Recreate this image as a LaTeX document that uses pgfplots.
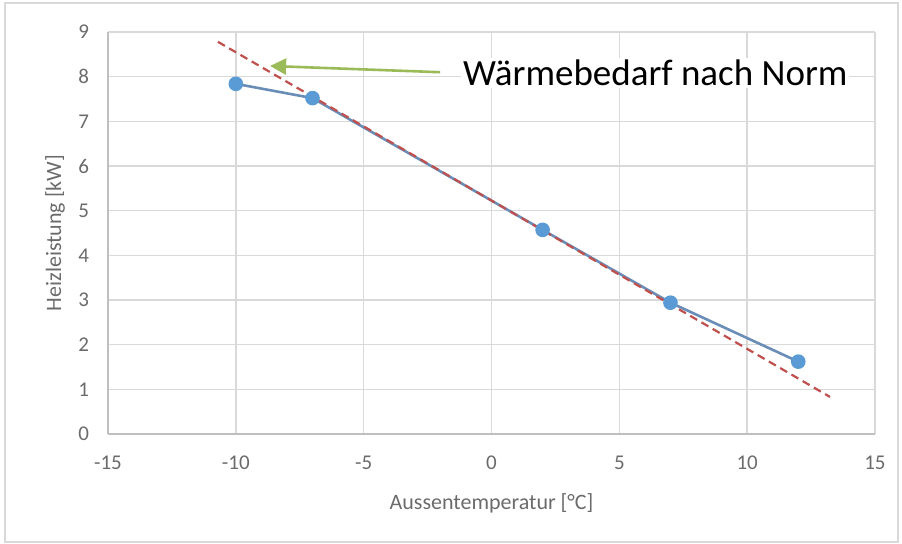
\documentclass[border=0pt]{standalone}
\usepackage{fontspec}
\setmainfont{Carlito}
\usepackage{pgfplots}
\pgfplotsset{compat=1.18}
\usetikzlibrary{arrows.meta}

\definecolor{gridgray}{HTML}{D9D9D9}
\definecolor{axgray}{HTML}{BFBFBF}
\definecolor{txtgray}{HTML}{6B6B6B}
\definecolor{ptblue}{HTML}{5B9BD5}
\definecolor{lnblue}{HTML}{6A8DB8}
\definecolor{normred}{HTML}{C0504D}
\definecolor{arrgreen}{HTML}{9BBB59}

\begin{document}
\begin{tikzpicture}
% chart area, 1px = 0.5pt
\path[use as bounding box] (0,0) rectangle (451pt,271.5pt);
\draw[gridgray, line width=0.8pt] (2.5pt,0.5pt) rectangle (449pt,270pt);

\begin{axis}[
    at={(54pt,54.5pt)}, anchor=south west,
    scale only axis,
    width=383.5pt, height=201pt,
    xmin=-15, xmax=15, ymin=0, ymax=9,
    xtick={-15,-10,...,15}, ytick={0,1,...,9},
    grid=major,
    major grid style={gridgray, line width=0.8pt},
    axis line style={axgray, line width=0.8pt},
    axis x line*=bottom, axis y line*=left,
    separate axis lines,
    tick style={draw=none},
    /pgf/number format/assume math mode=true,
    ticklabel style={font=\fontsize{10.5}{12}\selectfont, text=txtgray},
    xticklabel shift=7.5pt,
    yticklabel shift=6pt,
    xlabel={Aussentemperatur [°C]},
    ylabel={Heizleistung [kW]},
    label style={font=\fontsize{11}{13}\selectfont, text=txtgray},
    xlabel style={at={(axis description cs:0.5,-0.172)}, anchor=center},
    ylabel style={at={(axis description cs:-0.069,0.5)}, anchor=center},
    clip=false,
]
\addplot[lnblue, line width=1.3pt,
    mark=*, mark size=3pt, mark options={fill=ptblue, draw=ptblue}]
coordinates {(-10,7.84) (-7,7.52) (2,4.57) (7,2.94) (12,1.62)};

\addplot[normred, line width=1.1pt, dash pattern=on 4pt off 2.5pt]
coordinates {(-10.7,8.78) (13.24,0.83)};

\draw[arrgreen, line width=1.3pt, -{Triangle[length=8pt,width=8pt]}]
    (axis cs:-2.01,8.10) -- (axis cs:-8.66,8.24);

\node[anchor=west, fill=white, inner sep=1pt, font=\fontsize{18.5}{22}\selectfont]
    at (axis cs:-1.2,8.08) {Wärmebedarf nach Norm};
\end{axis}
\end{tikzpicture}
\end{document}
